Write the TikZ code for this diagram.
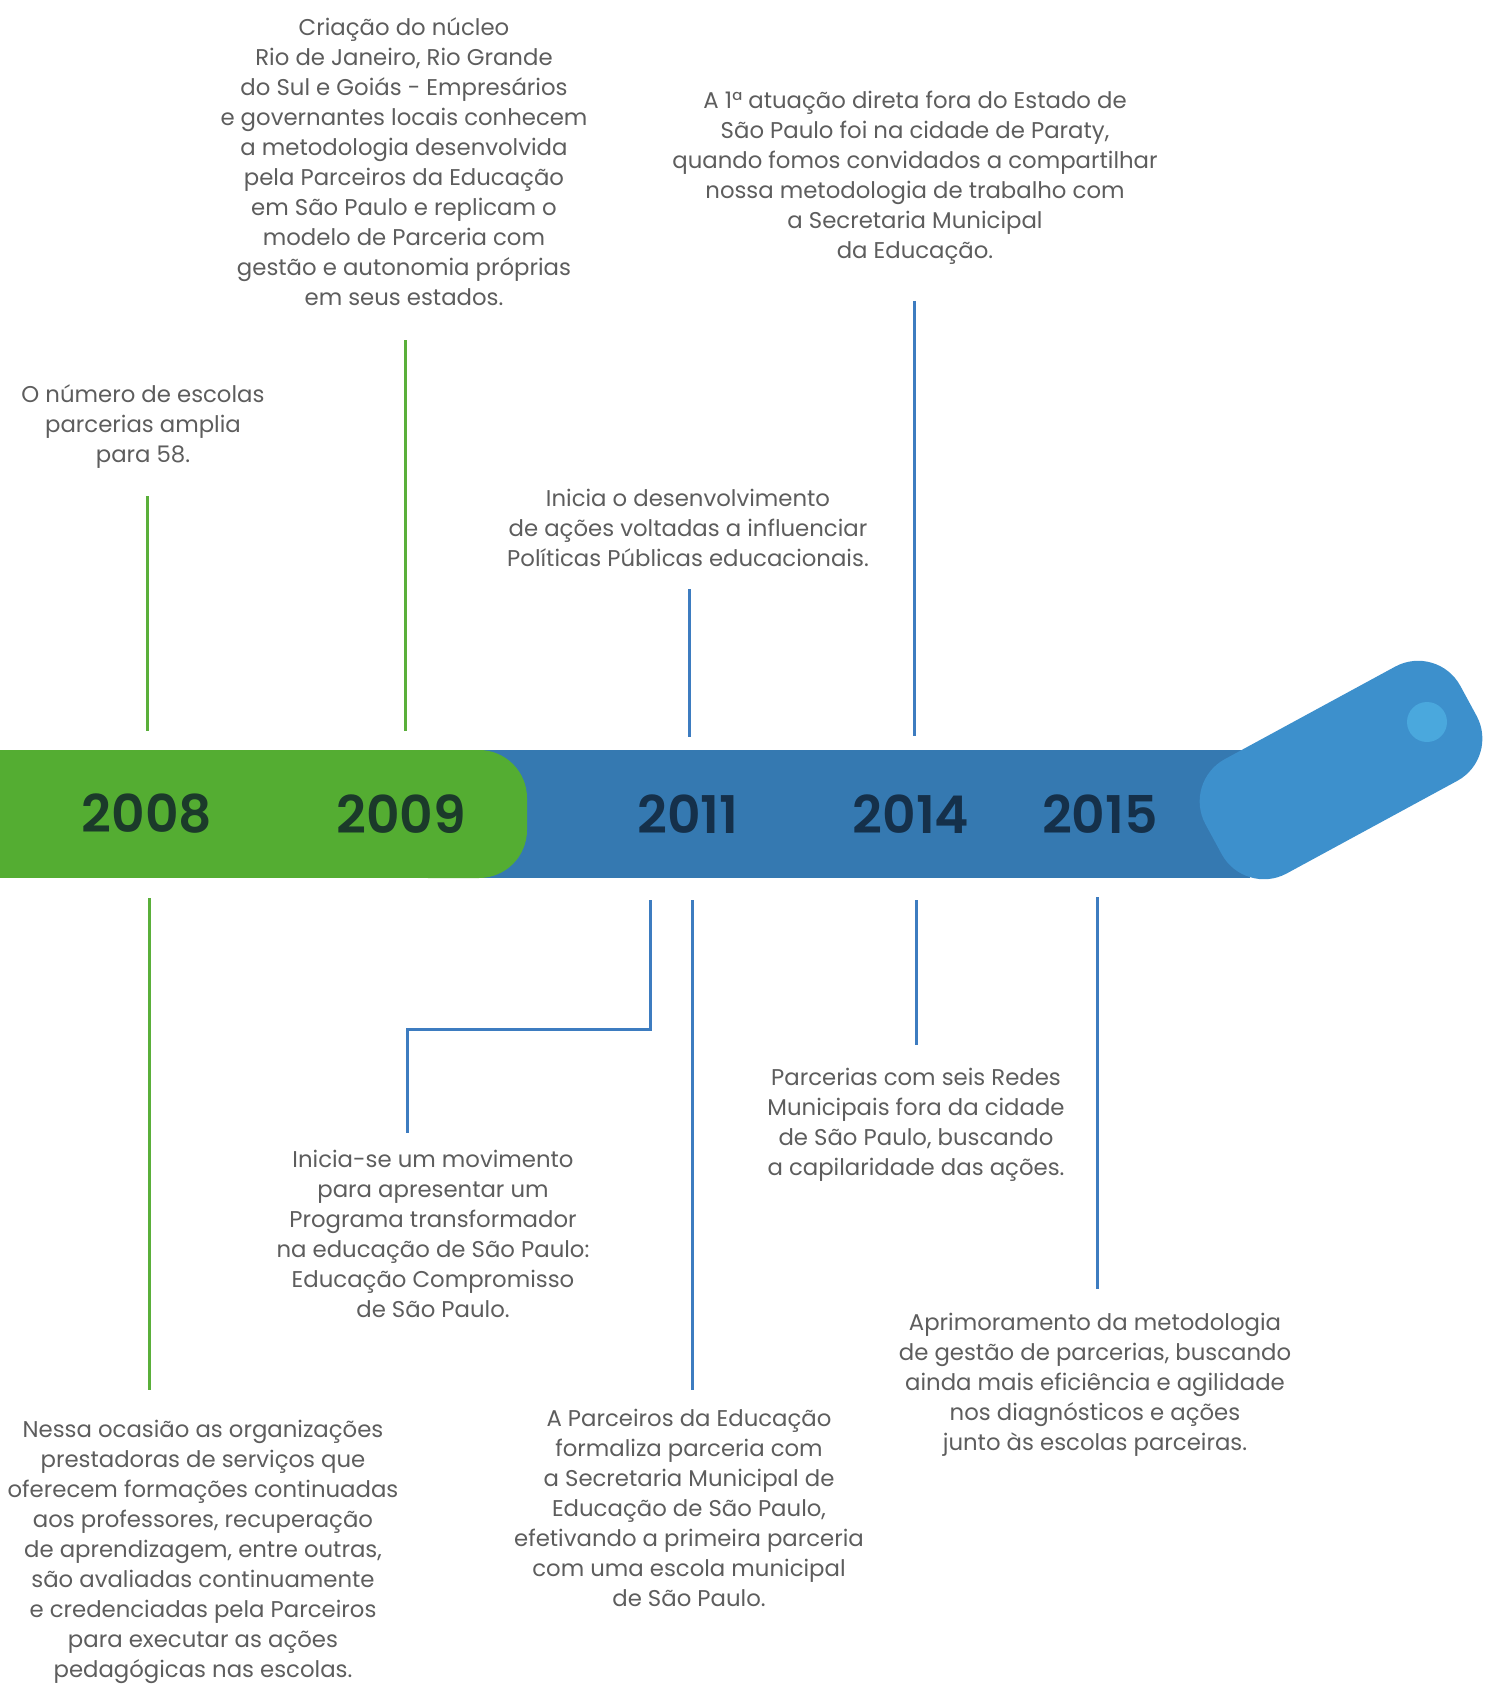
\documentclass[tikz,border=0pt]{standalone}
\usepackage{fontspec}
\setmainfont{Poppins}
\newfontfamily\yearfont{Poppins SemiBold}
\usetikzlibrary{positioning}
\definecolor{bargreen}{HTML}{54AD32}
\definecolor{barblue}{HTML}{3579B1}
\definecolor{tipblue}{HTML}{3D90CC}
\definecolor{dotblue}{HTML}{4AA8DD}
\definecolor{linegreen}{HTML}{5AAF3A}
\definecolor{lineblue}{HTML}{3D7CC0}
\definecolor{yeargreen}{HTML}{1B3A2A}
\definecolor{yearblue}{HTML}{15304A}
\definecolor{txtgrey}{HTML}{5D5D5D}

\begin{document}
\begin{tikzpicture}[x=1pt,y=-1pt,line join=miter,
  note/.style={align=center,inner sep=0pt,text=txtgrey,font=\fontsize{22.8}{30}\selectfont},
  year/.style={inner sep=0pt,font=\fontsize{52}{60}\yearfont},
  gline/.style={draw=linegreen,line width=3pt},
  bline/.style={draw=lineblue,line width=3pt},
  tipbox/.style={fill=tipblue,minimum width=290pt,minimum height=130pt,rounded corners=48pt,inner sep=0pt},
  dotmark/.style={circle,fill=dotblue,minimum size=40pt,inner sep=0pt}]
\useasboundingbox (0,0) rectangle (1487,1685);

% Bar
\fill[barblue] (400,750) rectangle (1250,878);
\fill[bargreen] (0,750) rectangle (460,878);
\fill[bargreen,rounded corners=48pt] (380,750) rectangle (527,878);
\node[tipbox,rotate=28.5] (tip) at (1341,770) {};
\node[dotmark] (dot) at (1427,722) {};

% Node: years
\node[year,text=yeargreen] (y2008) at (147,814) {2008};
\node[year,text=yeargreen] (y2009) at (401,814) {2009};
\node[year,text=yearblue] (y2011) at (688,814) {2011};
\node[year,text=yearblue] (y2014) at (911,814) {2014};
\node[year,text=yearblue] (y2015) at (1100,814) {2015};

% Node: notes above
\node[note] (n08a) at (143,427) {O número de escolas\\parcerias amplia\\para 58.};
\node[note] (n09a) at (404,162) {Criação do núcleo\\Rio de Janeiro, Rio Grande\\do Sul e Goiás - Empresários\\e governantes locais conhecem\\a metodologia desenvolvida\\pela Parceiros da Educação\\em São Paulo e replicam o\\modelo de Parceria com\\gestão e autonomia próprias\\em seus estados.};
\node[note] (n11a) at (688,528) {Inicia o desenvolvimento\\de ações voltadas a influenciar\\Políticas Públicas educacionais.};
\node[note] (n14a) at (915,178) {A 1ª atuação direta fora do Estado de\\São Paulo foi na cidade de Paraty,\\quando fomos convidados a compartilhar\\nossa metodologia de trabalho com\\a Secretaria Municipal\\da Educação.};

% Node: notes below
\node[note] (n08b) at (203,1552) {Nessa ocasião as organizações\\prestadoras de serviços que\\oferecem formações continuadas\\aos professores, recuperação\\de aprendizagem, entre outras,\\são avaliadas continuamente\\e credenciadas pela Parceiros\\para executar as ações\\pedagógicas nas escolas.};
\node[note] (n11b) at (433,1234) {Inicia-se um movimento\\para apresentar um\\Programa transformador\\na educação de São Paulo:\\Educação Compromisso\\de São Paulo.};
\node[note] (n11c) at (689,1508) {A Parceiros da Educação\\formaliza parceria com\\a Secretaria Municipal de\\Educação de São Paulo,\\efetivando a primeira parceria\\com uma escola municipal\\de São Paulo.};
\node[note] (n14b) at (916,1125) {Parcerias com seis Redes\\Municipais fora da cidade\\de São Paulo, buscando\\a capilaridade das ações.};
\node[note] (n15b) at (1095,1385) {Aprimoramento da metodologia\\de gestão de parcerias, buscando\\ainda mais eficiência e agilidade\\nos diagnósticos e ações\\junto às escolas parceiras.};

% Ends of the connectors
\coordinate (a08) at (147,496);  \coordinate (a08bar) at (147,731);
\coordinate (a09) at (405,340);  \coordinate (a09bar) at (405,731);
\coordinate (a11) at (689,589);  \coordinate (a11bar) at (689,737);
\coordinate (a14) at (914,301);  \coordinate (a14bar) at (914,736);
\coordinate (b08bar) at (149,898); \coordinate (b08) at (149,1390);
\coordinate (b11bar) at (650,900); \coordinate (b11) at (407,1133);
\coordinate (c11bar) at (692,900); \coordinate (c11) at (692,1390);
\coordinate (b14bar) at (916,900); \coordinate (b14) at (916,1045);
\coordinate (b15bar) at (1097,897); \coordinate (b15) at (1097,1289);

% Edge: notes -> bar
\draw[gline] (a08) -- (a08bar);
\draw[gline] (a09) -- (a09bar);
\draw[bline] (a11) -- (a11bar);
\draw[bline] (a14) -- (a14bar);
\draw[gline] (b08bar) -- (b08);
\draw[bline] (b11bar) -- (650,1029) -| (b11);
\draw[bline] (c11bar) -- (c11);
\draw[bline] (b14bar) -- (b14);
\draw[bline] (b15bar) -- (b15);
%
\end{tikzpicture}
\end{document}
